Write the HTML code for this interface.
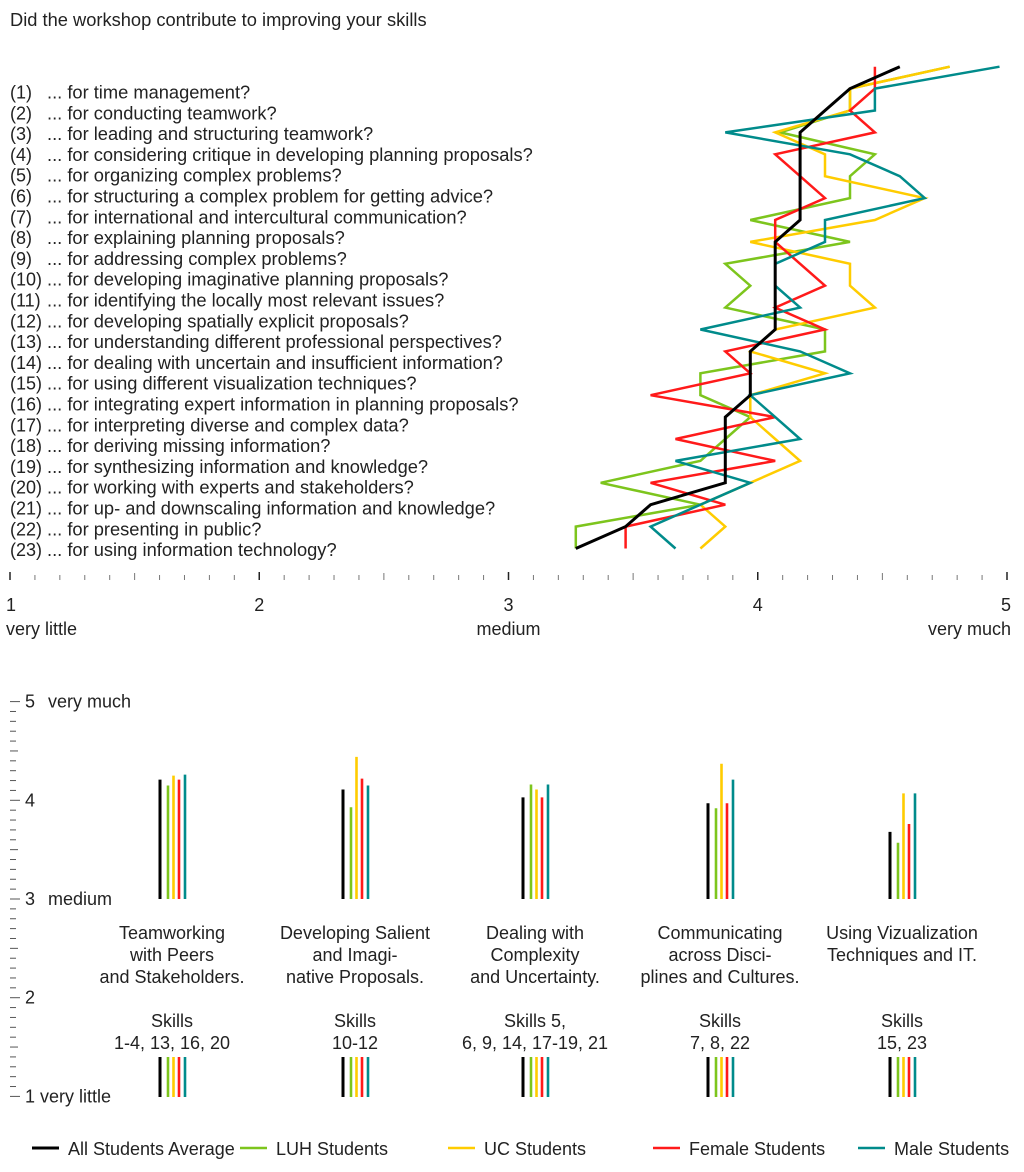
<!DOCTYPE html>
<html><head><meta charset="utf-8"><style>
body{margin:0;background:#fff;}
svg{display:block;font-family:"Liberation Sans",Arial,sans-serif;}
</style></head><body>
<svg id="chart" width="1024" height="1172" viewBox="0 0 1024 1172">
<text x="10" y="26" font-size="18.3" fill="#222">Did the workshop contribute to improving your skills</text>
<g id="rows"></g>
<g id="lines"></g>
<g id="xaxis"></g>
<g id="yaxis"></g>
<g id="bars"></g>
<g id="glabels"></g>
<g id="legend"></g>
</svg>
<script>
const questions=["... for time management?","... for conducting teamwork?","... for leading and structuring teamwork?","... for considering critique in developing planning proposals?","... for organizing complex problems?","... for structuring a complex problem for getting advice?","... for international and intercultural communication?","... for explaining planning proposals?","... for addressing complex problems?","... for developing imaginative planning proposals?","... for identifying the locally most relevant issues?","... for developing spatially explicit proposals?","... for understanding different professional perspectives?","... for dealing with uncertain and insufficient information?","... for using different visualization techniques?","... for integrating expert information in planning proposals?","... for interpreting diverse and complex data?","... for deriving missing information?","... for synthesizing information and knowledge?","... for working with experts and stakeholders?","... for up- and downscaling information and knowledge?","... for presenting in public?","... for using information technology?"];
const seriesNames=["All Students Average","LUH Students","UC Students","Female Students","Male Students"];
const seriesColors=["#000000","#7dc51d","#ffcc00","#ff1a1a","#008b8b"];
const allAvg=[4.57,4.37,4.27,4.17,4.17,4.17,4.17,4.17,4.07,4.07,4.07,4.07,4.07,3.97,3.97,3.97,3.87,3.87,3.87,3.87,3.57,3.47,3.27];
const luh=[4.77,4.37,4.37,4.09,4.47,4.37,4.37,3.97,4.37,3.87,3.97,3.87,4.27,4.27,3.77,3.77,3.97,3.87,3.77,3.37,3.77,3.27,3.27];
const uc=[4.77,4.37,4.37,4.07,4.27,4.27,4.67,4.47,3.97,4.37,4.37,4.47,4.07,3.97,4.27,3.97,3.97,4.07,4.17,3.97,3.77,3.87,3.77];
const female=[4.47,4.47,4.37,4.47,4.07,4.17,4.27,4.07,4.07,4.17,4.27,4.07,4.27,3.87,3.97,3.57,4.07,3.67,4.07,3.57,3.87,3.47,3.47];
const male=[4.97,4.47,4.47,3.87,4.37,4.57,4.67,4.27,4.27,4.07,4.07,4.17,3.77,4.17,4.37,3.97,4.07,4.17,3.67,3.97,3.77,3.57,3.67];
const groupTitles=[["Teamworking","with Peers","and Stakeholders."],["Developing Salient","and Imagi-","native Proposals."],["Dealing with","Complexity","and Uncertainty."],["Communicating","across Disci-","plines and Cultures."],["Using Vizualization","Techniques and IT."]];
const groupSkills=[["Skills","1-4, 13, 16, 20"],["Skills","10-12"],["Skills 5,","6, 9, 14, 17-19, 21"],["Skills","7, 8, 22"],["Skills","15, 23"]];
const barAll=[4.21,4.11,4.03,3.97,3.68];
const barLuh=[4.15,3.93,4.16,3.92,3.57];
const barUc=[4.25,4.44,4.11,4.37,4.07];
const barFemale=[4.21,4.22,4.03,3.97,3.76];
const barMale=[4.26,4.15,4.16,4.21,4.07];
const xTickLabels=["1","2","3","4","5"];

const NS="http://www.w3.org/2000/svg";
function mk(p,t,a){const e=document.createElementNS(NS,t);for(const k in a)e.setAttribute(k,a[k]);p.appendChild(e);return e;}
const xS=v=>10+(v-1)*249.25;
const rowY=i=>66.7+i*21.9;
const yB=v=>899-(v-3)*98.7;
const FS=18;

const rows=document.getElementById('rows');
questions.forEach((q,i)=>{
  const y=98.5+i*20.8;
  const n=mk(rows,'text',{x:10,y:y,'font-size':FS,fill:'#222'});
  
  
  n.textContent='('+(i+1)+')';
  const t=mk(rows,'text',{x:i<9?47:47,y:y,'font-size':18.3,fill:'#222'});
  
  
  t.textContent=q;
});

const lines=document.getElementById('lines');
const lineData=[luh,uc,female,male,allAvg];
const lineColors=[seriesColors[1],seriesColors[2],seriesColors[3],seriesColors[4],seriesColors[0]];
const lineNames=['line-luh','line-uc','line-female','line-male','line-all-average'];
lineData.forEach((d,k)=>{
  const pts=d.map((v,i)=>xS(v).toFixed(1)+','+rowY(i).toFixed(1)).join(' ');
  const p=mk(lines,'polyline',{points:pts,fill:'none',stroke:lineColors[k],'stroke-width':k==4?3:2.5,'stroke-linejoin':'miter'});
  
  
});

const xa=document.getElementById('xaxis');
for(let j=0;j<=40;j++){
  const v=1+j*0.1, x=xS(v);
  const major=j%10==0, half=j%5==0;
  const l=mk(xa,'line',{x1:x,x2:x,y1:major?572:(half?573:575),y2:580,stroke:major?'#222':'#777','stroke-width':major?1.5:1});
  
  
}
xTickLabels.forEach((s,i)=>{
  const x=xS(i+1);
  const t=mk(xa,'text',{x:i==0?x-4:(i==4?x+4:x),y:611,'font-size':FS,fill:'#222','text-anchor':i==0?'start':(i==4?'end':'middle')});
  
  
  t.textContent=s;
});
[["very little",6,'start'],["medium",xS(3),'middle'],["very much",1011,'end']].forEach(a=>{
  const t=mk(xa,'text',{x:a[1],y:635,'font-size':FS,fill:'#222','text-anchor':a[2]});
  
  
  t.textContent=a[0];
});

const ya=document.getElementById('yaxis');
for(let j=0;j<=40;j++){
  const v=1+j*0.1,y=yB(v);const major=j%10==0, half=j%5==0;
  const l=mk(ya,'line',{x1:10,x2:major?20:(half?18:16),y1:y,y2:y,stroke:'#555','stroke-width':1});
  
  
}
[["5","very much",5,48],["4","",4,0],["3","medium",3,48],["2","",2,0],["1","very little",1,40]].forEach(a=>{
  const t=mk(ya,'text',{x:25,y:yB(a[2])+6,'font-size':FS,fill:'#222'});
  
  
  t.textContent=a[0];
  if(a[1]){
    const u=mk(ya,'text',{x:a[3],y:yB(a[2])+6,'font-size':FS,fill:'#222'});
    
    
    u.textContent=a[1];
  }
});

const bars=document.getElementById('bars');
const groupX=[172,355,535,720,902];
const offs=[-12,-4,1.5,7,13];
const barSets=[barAll,barLuh,barUc,barFemale,barMale];
const barNames=['bar-all','bar-luh','bar-uc','bar-female','bar-male'];
groupX.forEach((gx,g)=>{
  barSets.forEach((arr,k)=>{
    const x=gx+offs[k];
    const b=mk(bars,'line',{x1:x,x2:x,y1:yB(3),y2:yB(arr[g]),stroke:seriesColors[k],'stroke-width':k==0?3:2.6});
    
    
    const s=mk(bars,'line',{x1:x,x2:x,y1:1057,y2:1097,stroke:seriesColors[k],'stroke-width':k==0?3:2.6});
    
    
  });
});

const gl=document.getElementById('glabels');
groupX.forEach((gx,g)=>{
  groupTitles[g].forEach((s,i)=>{
    const t=mk(gl,'text',{x:gx,y:939+i*22,'font-size':FS,fill:'#222','text-anchor':'middle'});
    
    
    t.textContent=s;
  });
  groupSkills[g].forEach((s,i)=>{
    const t=mk(gl,'text',{x:gx,y:1027+i*22,'font-size':FS,fill:'#222','text-anchor':'middle'});
    
    
    t.textContent=s;
  });
});

const lg=document.getElementById('legend');
const legX=[32,240,448,653,858];
seriesNames.forEach((n,k)=>{
  const x=legX[k];
  const l=mk(lg,'line',{x1:x,x2:x+27,y1:1148,y2:1148,stroke:seriesColors[k],'stroke-width':k==0?3:2.5});
  
  
  const t=mk(lg,'text',{x:x+36,y:1155,'font-size':FS,fill:'#222'});
  
  
  t.textContent=n;
});
</script>
</body></html>
